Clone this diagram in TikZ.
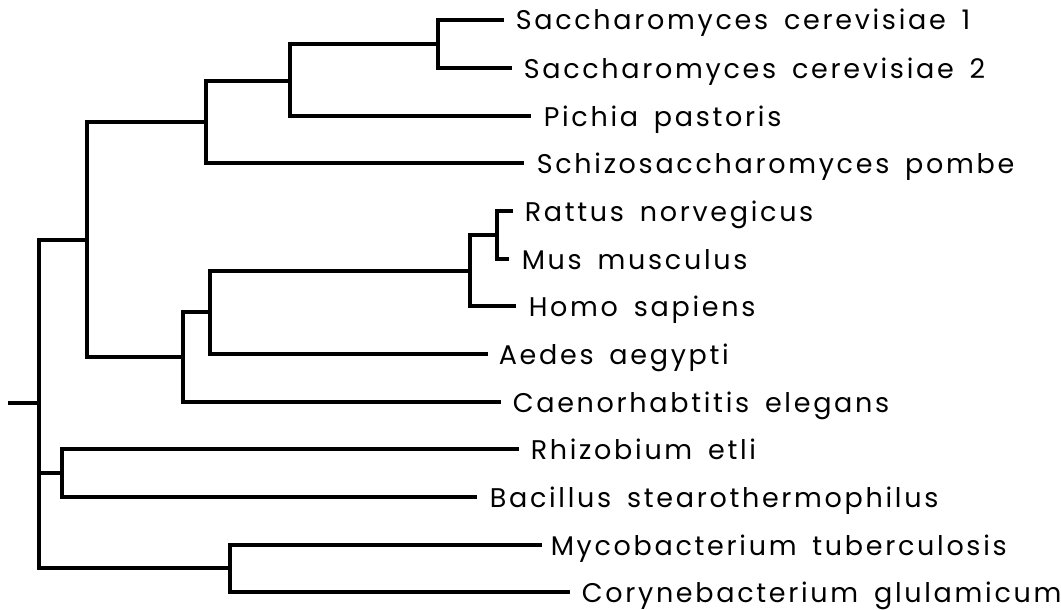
\documentclass[tikz,border=0pt]{standalone}
\usepackage{fontspec}
\newfontfamily\plotfont{Poppins}[LetterSpace=10,WordSpace=1.6]
\usetikzlibrary{calc}

\begin{document}
\begin{tikzpicture}[x=1pt, y=-1pt, line width=3.6pt, line join=miter, line cap=rect,
  leaf/.style={anchor=base west, inner sep=0pt, font=\plotfont\fontsize{27}{32}\selectfont}]
  \useasboundingbox (0,0) rectangle (1061,610);
  % ends of the leaf branches
  \coordinate (sc1e) at (502,20);
  \coordinate (sc2e) at (510,68);
  \coordinate (ppae) at (529,116);
  \coordinate (spoe) at (522,163);
  \coordinate (rnoe) at (511,211);
  \coordinate (mmue) at (507,259);
  \coordinate (hsae) at (514,306);
  \coordinate (aaee) at (486,354);
  \coordinate (cele) at (499,402);
  \coordinate (rete) at (517,449);
  \coordinate (bste) at (475,497);
  \coordinate (mtue) at (540,545);
  \coordinate (cgle) at (568,592);
  % inner nodes
  \coordinate (nsc) at (438,44);
  \coordinate (nsp) at (290,81);
  \coordinate (nfu) at (206,122);
  \coordinate (nrm) at (497,235);
  \coordinate (nma) at (470,271);
  \coordinate (nmd) at (210,312);
  \coordinate (nan) at (183,357);
  \coordinate (neu) at (87,240);
  \coordinate (nba) at (62,473);
  \coordinate (nac) at (230,568);
  \coordinate (root) at (39,403);
  \coordinate (stub) at (10,403);
  % labels
  \node[leaf] (sc1) at ([xshift=12pt,yshift=-10pt]sc1e) {Saccharomyces cerevisiae 1};
  \node[leaf] (sc2) at ([xshift=12pt,yshift=-10pt]sc2e) {Saccharomyces cerevisiae 2};
  \node[leaf] (ppa) at ([xshift=13pt,yshift=-10pt]ppae) {Pichia pastoris};
  \node[leaf] (spo) at ([xshift=13pt,yshift=-10pt]spoe) {Schizosaccharomyces pombe};
  \node[leaf] (rno) at ([xshift=12pt,yshift=-10pt]rnoe) {Rattus norvegicus};
  \node[leaf] (mmu) at ([xshift=13pt,yshift=-10pt]mmue) {Mus musculus};
  \node[leaf] (hsa) at ([xshift=13pt,yshift=-10pt]hsae) {Homo sapiens};
  \node[leaf] (aae) at ([xshift=11pt,yshift=-10pt]aaee) {Aedes aegypti};
  \node[leaf] (cel) at ([xshift=12pt,yshift=-10pt]cele) {Caenorhabtitis elegans};
  \node[leaf] (ret) at ([xshift=12pt,yshift=-10pt]rete) {Rhizobium etli};
  \node[leaf] (bst) at ([xshift=13pt,yshift=-10pt]bste) {Bacillus stearothermophilus};
  \node[leaf] (mtu) at ([xshift=9pt,yshift=-10pt]mtue) {Mycobacterium tuberculosis};
  \node[leaf] (cgl) at ([xshift=12pt,yshift=-10pt]cgle) {Corynebacterium glulamicum};
  % branches
  \draw (sc1e) -| (nsc) |- (sc2e);
  \draw (nsc) -| (nsp) |- (ppae);
  \draw (nsp) -| (nfu) |- (spoe);
  \draw (rnoe) -| (nrm) |- (mmue);
  \draw (nrm) -| (nma) |- (hsae);
  \draw (nma) -| (nmd) |- (aaee);
  \draw (nmd) -| (nan) |- (cele);
  \draw (nfu) -| (neu) |- (nan);
  \draw (rete) -| (nba) |- (bste);
  \draw (mtue) -| (nac) |- (cgle);
  \draw (neu) -| (root) |- (nac);
  \draw (nba) -- (root |- nba);
  \draw (root) -- (stub);
\end{tikzpicture}
\end{document}
